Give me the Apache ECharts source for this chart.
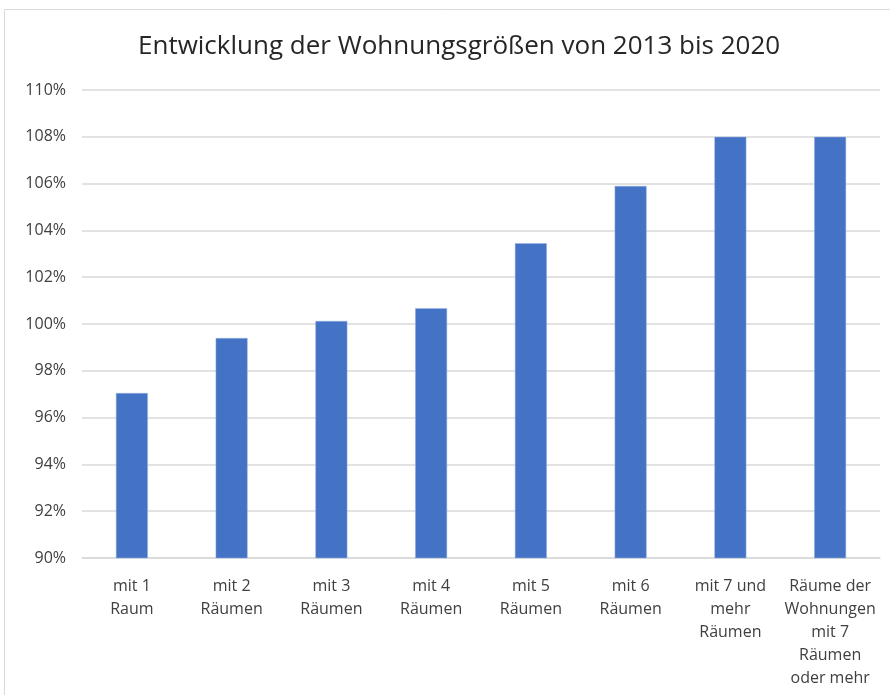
<!DOCTYPE html>
<html><head><meta charset="utf-8">
<script src="https://cdn.jsdelivr.net/npm/echarts@6/dist/echarts.min.js"></script>
<style>html,body{margin:0;padding:0;background:#fff}#c{width:890px;height:695px}</style>
</head><body><div id="c"></div>
<script>
const titleText = 'Entwicklung der Wohnungsgrößen von 2013 bis 2020';
const categories = ['mit 1\nRaum','mit 2\nRäumen','mit 3\nRäumen','mit 4\nRäumen','mit 5\nRäumen','mit 6\nRäumen','mit 7 und\nmehr\nRäumen','Räume der\nWohnungen\nmit 7\nRäumen\noder mehr'];
const values = [97.05, 99.4, 100.13, 100.67, 103.45, 105.9, 108.0, 108.0];
const yMin = 90, yMax = 110, yStep = 2;
const font = '"Open Sans", sans-serif';
const chart = echarts.init(document.getElementById('c'));
chart.setOption({
  animation:false,
  graphic:[{type:'rect',shape:{x:4.5,y:9.5,width:890,height:700},style:{fill:'none',stroke:'#d9d9d9',lineWidth:1}}],
  title:{text:titleText,left:133,top:29,textStyle:{fontFamily:font,fontSize:26,fontWeight:'normal',color:'#262626'}},
  grid:{left:82,right:10,top:90,bottom:137},
  xAxis:{type:'category',data:categories,
    axisLine:{lineStyle:{color:'#d9d9d9',width:1.5}},axisTick:{show:false},
    axisLabel:{interval:0,margin:17,fontFamily:font,fontSize:16,color:'#404040',lineHeight:23}},
  yAxis:{type:'value',min:yMin,max:yMax,interval:yStep,
    axisLine:{show:false},axisTick:{show:false},
    splitLine:{lineStyle:{color:'#d9d9d9',width:1.5}},
    axisLabel:{formatter:v=>v+'%',margin:16,fontFamily:font,fontSize:16,color:'#404040'}},
  series:[{type:'bar',data:values,barWidth:'32%',itemStyle:{color:'#4472c4',borderColor:'#9bb4e0',borderWidth:0.5}}]
});
</script></body></html>
